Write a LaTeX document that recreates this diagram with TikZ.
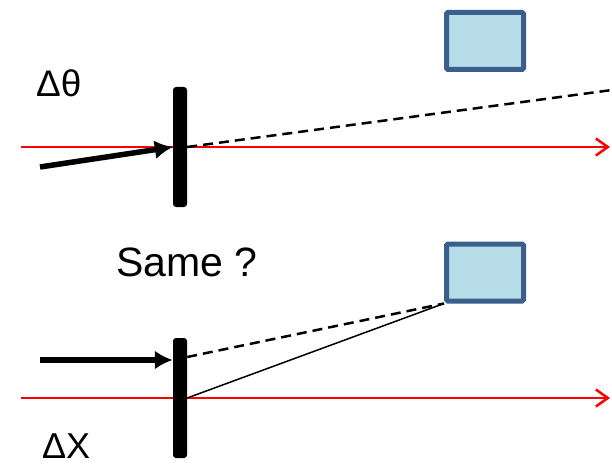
\documentclass[tikz,border=0pt]{standalone}
\usepackage{xcolor}
\usepackage{fontspec}
\setmainfont{Liberation Sans}
\usepackage{tikz}
\usetikzlibrary{shapes,positioning}
\usetikzlibrary{calc}
\usetikzlibrary{arrows.meta}
\definecolor{bleuclair}{HTML}{B7DDE8}
\definecolor{bleufonce}{HTML}{3B5E8C}
\tikzset{
	miroir/.style={fill=black,rounded corners=3pt,minimum width=14pt,minimum height=120pt,inner sep=0pt},
	detecteur/.style={fill=bleuclair,draw=bleufonce,line width=5pt,rounded corners=1.5pt,minimum width=77pt,minimum height=57pt,inner sep=0pt},
	faisceau/.style={red,line width=2.5pt,-{Straight Barb[length=12pt,width=17pt]}},
	incident/.style={line width=5.5pt,-{Latex[length=18pt,width=19pt]}},
	reflechi/.style={line width=2.5pt,dash pattern=on 10pt off 6pt},
	texte/.style={anchor=base west,inner sep=0pt}
}

\begin{document}
\begin{tikzpicture}[x=1pt,y=-1pt]
	\useasboundingbox (0,0) rectangle (612,465);
	
	%Points de depart
	\coordinate (depA) at (21,147);
	\coordinate (finA) at (610,147);
	\coordinate (depB) at (21,398);
	\coordinate (finB) at (610,398);
	\coordinate (incA) at (40,167);
	\coordinate (incB) at (40,360);
	\coordinate (refA) at (612,90);
	
	%Faisceaux
	\draw[faisceau] (depA) -- (finA);
	\draw[faisceau] (depB) -- (finB);
	
	%Miroirs
	\node[miroir] (mirA) at (180,147) {};
	\node[miroir] (mirB) at (180,398) {};
	
	%Detecteurs
	\node[detecteur] (detA) at (485,41) {};
	\node[detecteur] (detB) at (485,272.5) {};
	
	%Rayons
	\draw[incident] (incA) -- (mirA.west);
	\draw[incident] (incB) -- (mirB.west |- incB);
	\draw[reflechi] (mirA.east) -- (refA);
	\draw[reflechi] ($(mirB.east |- incB)+(0,-3)$) -- (detB.south west);
	\draw[line width=1.5pt] (mirB.east) -- (detB.south west);
	
	%Textes
	\node[texte,font=\fontsize{37}{37}\selectfont] (dtheta) at (36,97) {Δθ};
	\node[texte,font=\fontsize{41}{41}\selectfont] (same) at (116,276) {Same ?};
	\node[texte,font=\fontsize{36}{36}\selectfont] (dx) at (42,458) {ΔX};
	
\end{tikzpicture}
\end{document}
